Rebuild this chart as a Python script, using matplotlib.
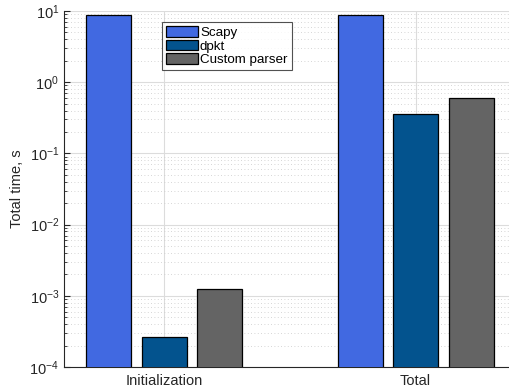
import matplotlib
matplotlib.use("Agg")
import matplotlib.pyplot as plt
import numpy as np
from matplotlib.ticker import LogLocator, FuncFormatter, NullFormatter

plt.rcParams["font.family"] = ["Liberation Sans", "DejaVu Sans"]
plt.rcParams["mathtext.fontset"] = "custom"
plt.rcParams["mathtext.rm"] = "Liberation Sans"
plt.rcParams["mathtext.default"] = "regular"

categories = ["Initialization", "Total"]
series_names = ["Scapy", "dpkt", "Custom parser"]
scapy = [8.8, 8.8]
dpkt = [2.6e-4, 0.356]
custom = [1.25e-3, 0.596]
colors = ["#4169E1", "#03538E", "#646464"]

fig = plt.figure(figsize=(5.10, 3.89), dpi=100)
ax = fig.add_axes([64 / 510, 22 / 389, (516 - 64) / 510, (367 - 11) / 389])

x = np.arange(1, len(categories) + 1)
width = 0.179
offset = 0.221
for i, (vals, name, c) in enumerate(zip([scapy, dpkt, custom], series_names, colors)):
    ax.bar(x + (i - 1) * offset, vals, width=width, color=c, edgecolor="black",
           linewidth=0.9, label=name, zorder=3)

ax.set_yscale("log")
ax.set_ylim(1e-4, 1e1)
ax.set_xlim(0.6, 2.4)
ax.set_xticks(x)
ax.set_xticklabels(categories, fontsize=10.5, color="#262626")
ax.yaxis.set_major_locator(LogLocator(base=10, numticks=10))
ax.yaxis.set_minor_locator(LogLocator(base=10, subs=np.arange(2, 10), numticks=20))
ax.yaxis.set_major_formatter(FuncFormatter(lambda v, p: r"$10^{%d}$" % int(round(np.log10(v)))))
ax.yaxis.set_minor_formatter(NullFormatter())
ax.tick_params(axis="both", which="both", direction="in", colors="#262626")
ax.tick_params(axis="y", which="major", length=4, labelsize=10.5)
ax.tick_params(axis="y", which="minor", length=2)
ax.tick_params(axis="x", which="major", length=0, pad=5)

ax.grid(True, which="major", axis="both", color="#dcdcdc", linewidth=0.8, zorder=0)
ax.grid(True, which="minor", axis="y", color="#c8c8c8", linestyle=(0, (1, 3)), linewidth=0.6, zorder=0)
ax.set_axisbelow(True)

for s in ["top", "right"]:
    ax.spines[s].set_visible(False)
ax.spines["left"].set_color("#262626")
ax.spines["bottom"].set_color("#262626")

ax.set_ylabel("Total time, s", fontsize=10.5, color="#262626")

leg = ax.legend(loc="upper left", bbox_to_anchor=((162 - 64) / 452, (367 - 22) / 356),
                fontsize=9.6, frameon=True, fancybox=False, borderpad=0.3,
                handlelength=2.4, handleheight=0.85, handletextpad=0.15, labelspacing=0.05,
                borderaxespad=0)
leg.get_frame().set_edgecolor("#262626")
leg.get_frame().set_linewidth(0.8)

fig.savefig("out.png", dpi=100)
